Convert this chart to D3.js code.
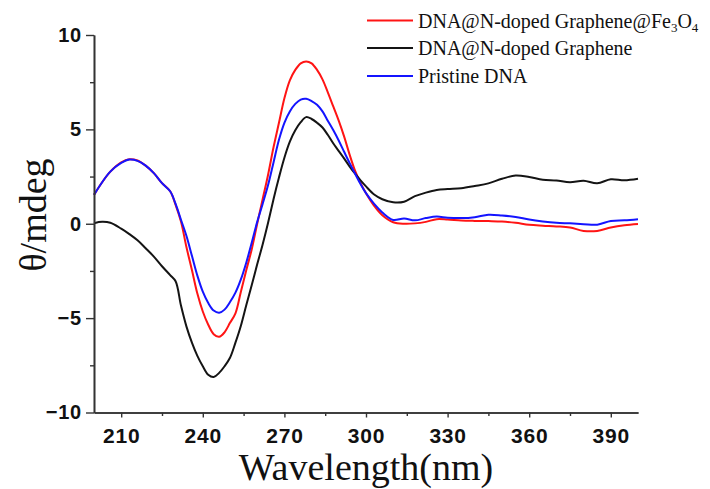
<!DOCTYPE html>
<html>
<head>
<meta charset="utf-8">
<script src="https://cdn.jsdelivr.net/npm/d3@7"></script>
<style>
    html, body { margin: 0; padding: 0; background: #fff; }
    svg { display: block; }
    .tick-label { font-family: "Liberation Sans", Arial, sans-serif; font-weight: bold; fill: #111; }
    .serif { font-family: "Liberation Serif", "Times New Roman", serif; fill: #111; }
</style>
</head>
<body>
<svg id="chart" width="710" height="489"></svg>
<script>
// wavelength grid shared by all three spectra (nm)
const wavelength = [
    200, 203, 206, 210, 213, 216, 219, 222, 225, 228, 230, 232, 234, 236, 238, 240,
    242, 244, 246, 248, 250, 252, 254, 256, 258, 260, 262, 264, 266, 268, 270, 272,
    274, 276, 278, 280, 282, 284, 286, 288, 290, 292, 294, 296, 298, 300, 303, 306,
    310, 314, 318, 322, 326, 330, 335, 340, 345, 350, 355, 360, 365, 370, 375, 380,
    385, 390, 395, 400
];

// DNA@N-doped Graphene@Fe3O4
const fe3o4Values = [
    1.53, 2.2, 2.76, 3.25, 3.42, 3.35, 3.08, 2.68, 2.15, 1.72, 1.0, 0.1, -1.25, -2.45, -3.7, -4.65,
    -5.35, -5.85, -5.99, -5.75, -5.25, -4.75, -3.6, -2.45, -1.35, 0.0, 1.3, 2.6, 4.05, 5.35, 6.65, 7.6,
    8.15, 8.5, 8.6, 8.5, 8.15, 7.65, 6.95, 6.2, 5.45, 4.6, 3.65, 2.8, 2.15, 1.62, 0.95, 0.45,
    0.08, 0.0, 0.02, 0.1, 0.24, 0.22, 0.17, 0.15, 0.14, 0.12, 0.05, -0.05, -0.1, -0.14, -0.2, -0.38,
    -0.38, -0.2, -0.08, -0.01
];

// DNA@N-doped Graphene
const grapheneValues = [
    0.03, 0.1, 0.05, -0.26, -0.55, -0.88, -1.3, -1.74, -2.25, -2.72, -3.05, -4.35, -5.45, -6.3, -7.0, -7.55,
    -8.0, -8.12, -7.9, -7.55, -7.1, -6.3, -5.4, -4.3, -3.25, -2.15, -1.1, 0.05, 1.3, 2.45, 3.5, 4.35,
    4.95, 5.38, 5.65, 5.55, 5.35, 5.1, 4.7, 4.25, 3.85, 3.45, 3.03, 2.65, 2.3, 1.98, 1.55, 1.3,
    1.14, 1.17, 1.46, 1.65, 1.79, 1.84, 1.88, 2.0, 2.14, 2.38, 2.56, 2.48, 2.33, 2.29, 2.2, 2.28,
    2.14, 2.36, 2.3, 2.38
];

// Pristine DNA
const pristineValues = [
    1.53, 2.2, 2.76, 3.22, 3.4, 3.33, 3.08, 2.68, 2.15, 1.72, 1.05, 0.2, -0.65, -1.7, -2.75, -3.6,
    -4.2, -4.6, -4.72, -4.55, -4.15, -3.65, -2.95, -2.05, -1.0, 0.1, 1.05, 2.05, 3.25, 4.45, 5.35, 5.95,
    6.35, 6.58, 6.62, 6.5, 6.3, 5.95, 5.45, 4.95, 4.4, 3.8, 3.21, 2.65, 2.1, 1.62, 1.05, 0.6,
    0.2, 0.28, 0.18, 0.3, 0.38, 0.32, 0.3, 0.35, 0.48, 0.44, 0.36, 0.22, 0.12, 0.05, 0.02, -0.02,
    -0.05, 0.15, 0.18, 0.24
];

const xMajorTicks = [210, 240, 270, 300, 330, 360, 390];
const xMinorTicks = [225, 255, 285, 315, 345, 375];
const yMajorTicks = [-10, -5, 0, 5, 10];
const yMinorTicks = [-7.5, -2.5, 2.5, 7.5];

const series = [
    { name: 'fe3o4',    label: 'DNA@N-doped Graphene@Fe', values: fe3o4Values,    color: '#ff1414' },
    { name: 'graphene', label: 'DNA@N-doped Graphene',    values: grapheneValues, color: '#141414' },
    { name: 'pristine', label: 'Pristine DNA',            values: pristineValues, color: '#1414ff' }
];

const svg = d3.select('#chart');

const x = d3.scaleLinear().domain([200, 400]).range([94, 638]);
const y = d3.scaleLinear().domain([-10, 10]).range([412.5, 35]);

// curves
const line = d3.line()
    .x(d => x(d[0]))
    .y(d => y(d[1]))
    .curve(d3.curveCatmullRom.alpha(0.5));

svg.append('g').attr('class', 'curves')
    .selectAll('path')
    .data(series)
    .join('path')
    .attr('fill', 'none')
    .attr('stroke', d => d.color)
    .attr('stroke-width', 2)
    .attr('stroke-linejoin', 'round')
    .attr('d', d => line(wavelength.map((w, i) => [w, d.values[i]])));

// axes
function styleAxis(g) {
    g.select('.domain').attr('stroke', '#333').attr('stroke-width', 1.6);
    g.selectAll('.tick line').attr('stroke', '#333').attr('stroke-width', 1.4);
}

svg.append('g')
    .attr('transform', `translate(0,${y(-10)})`)
    .call(d3.axisBottom(x).tickValues(xMinorTicks).tickSize(3.5).tickFormat('').tickSizeOuter(0))
    .call(styleAxis);

const xg = svg.append('g')
    .attr('transform', `translate(0,${y(-10)})`)
    .call(d3.axisBottom(x).tickValues(xMajorTicks).tickSize(5).tickPadding(11).tickSizeOuter(0))
    .call(styleAxis);
xg.selectAll('text').attr('class', 'tick-label').attr('font-size', 21).attr('letter-spacing', 0.8);

svg.append('g')
    .attr('transform', `translate(${x(200)},0)`)
    .call(d3.axisLeft(y).tickValues(yMinorTicks).tickSize(4).tickFormat('').tickSizeOuter(0))
    .call(styleAxis);

const yg = svg.append('g')
    .attr('transform', `translate(${x(200)},0)`)
    .call(d3.axisLeft(y).tickValues(yMajorTicks).tickSize(8).tickPadding(4).tickSizeOuter(0))
    .call(styleAxis);
yg.selectAll('text').attr('class', 'tick-label').attr('font-size', 20).attr('letter-spacing', 0.8);
svg.selectAll('.tick text').attr('fill', '#111');

// axis titles
svg.append('text')
    .attr('class', 'serif')
    .attr('x', 366)
    .attr('y', 480)
    .attr('text-anchor', 'middle')
    .attr('font-size', 38)
    .text('Wavelength(nm)');

svg.append('text')
    .attr('class', 'serif')
    .attr('transform', 'translate(46,215) rotate(-90)')
    .attr('text-anchor', 'middle')
    .attr('font-size', 38)
    .text('θ/mdeg');

// legend
const legendRows = [20.5, 48, 76];
const legend = svg.append('g').attr('class', 'legend');
const rows = legend.selectAll('g')
    .data(series)
    .join('g')
    .attr('transform', (d, i) => `translate(367,${legendRows[i]})`);

rows.append('line')
    .attr('x1', 0).attr('x2', 46)
    .attr('stroke', d => d.color)
    .attr('stroke-width', 2);

const labels = rows.append('text')
    .attr('class', 'serif')
    .attr('x', 51)
    .attr('y', 7)
    .attr('font-size', 20)
    .text(d => d.label);

// subscripts for Fe3O4
labels.filter(d => d.name === 'fe3o4').each(function () {
    const t = d3.select(this);
    t.append('tspan').attr('font-size', 13).attr('dy', 4).text('3');
    t.append('tspan').attr('font-size', 20).attr('dy', -4).text('O');
    t.append('tspan').attr('font-size', 13).attr('dy', 4).text('4');
});
</script>
</body>
</html>
